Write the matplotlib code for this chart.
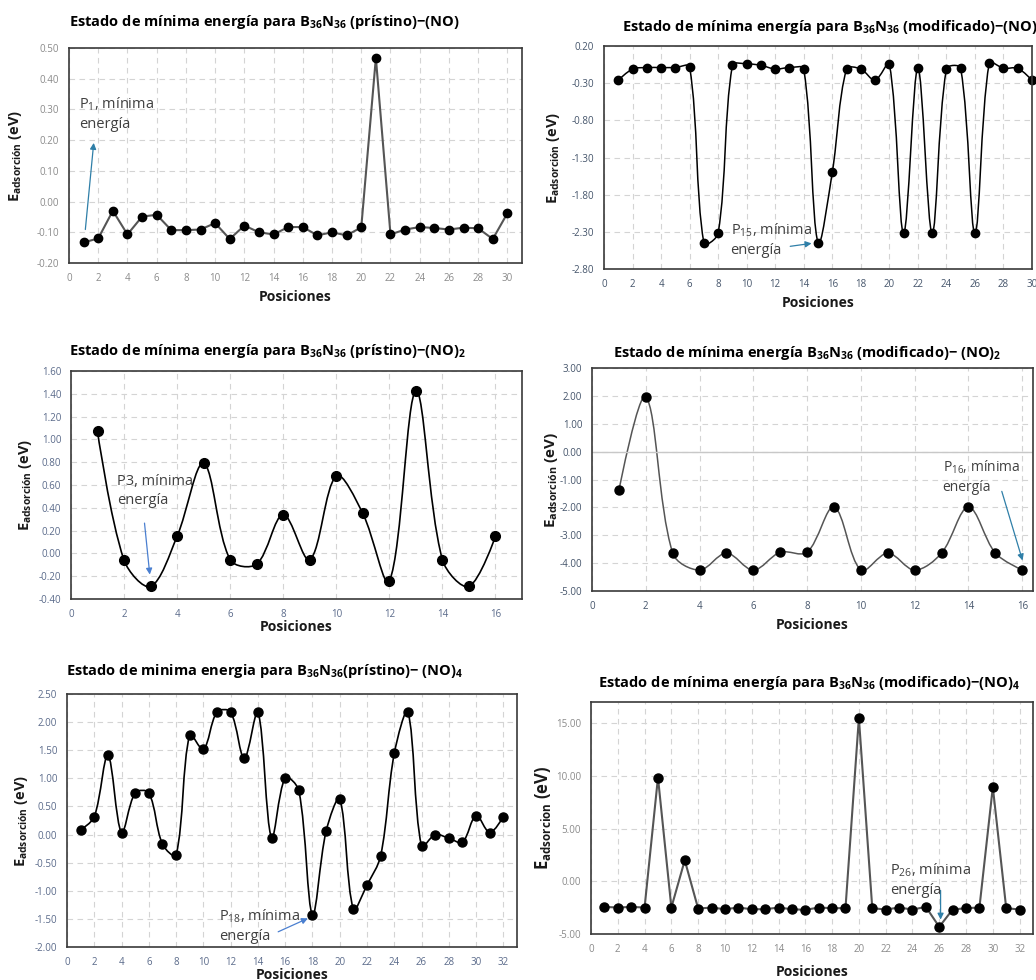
import numpy as np
import matplotlib
matplotlib.use("Agg")
import matplotlib.pyplot as plt
from matplotlib.path import Path
from matplotlib.patches import PathPatch

plt.rcParams['font.family'] = ['Open Sans', 'DejaVu Sans']
plt.rcParams['mathtext.default'] = 'regular'

W, H = 1036, 980

# ---- data ----
pos_30 = list(range(1, 31))
pos_16 = list(range(1, 17))
pos_32 = list(range(1, 33))

e_pris_no = [-0.133, -0.120, -0.030, -0.107, -0.049, -0.043, -0.093, -0.093, -0.091, -0.070,
             -0.122, -0.078, -0.100, -0.107, -0.083, -0.083, -0.110, -0.100, -0.110, -0.084,
             0.468, -0.107, -0.091, -0.083, -0.086, -0.091, -0.085, -0.087, -0.122, -0.038]

e_mod_no = [-0.26, -0.11, -0.09, -0.09, -0.09, -0.08, -2.45, -2.32, -0.06, -0.04,
            -0.06, -0.11, -0.09, -0.11, -2.45, -1.50, -0.11, -0.11, -0.26, -0.04,
            -2.32, -0.09, -2.32, -0.11, -0.10, -2.32, -0.03, -0.10, -0.10, -0.26]

e_pris_no2 = [1.07, -0.06, -0.29, 0.15, 0.79, -0.056, -0.094, 0.34, -0.056, 0.68,
              0.35, -0.245, 1.424, -0.056, -0.29, 0.15]

e_mod_no2 = [-1.39, 1.97, -3.64, -4.25, -3.64, -4.25, -3.61, -3.61, -1.99, -4.25,
             -3.64, -4.25, -3.64, -1.99, -3.64, -4.25]

e_pris_no4 = [0.083, 0.315, 1.41, 0.036, 0.742, 0.742, -0.172, -0.362, 1.776, 1.514,
              2.18, 2.18, 1.354, 2.18, -0.06, 1.01, 0.784, -1.425, 0.06, 0.63,
              -1.324, -0.897, -0.38, 1.443, 2.18, -0.208, 0.0, -0.065, -0.137, 0.338,
              0.036, 0.315]

e_mod_no4 = [-2.43, -2.49, -2.43, -2.49, 9.84, -2.49, 1.99, -2.59, -2.49, -2.65,
             -2.49, -2.65, -2.65, -2.49, -2.65, -2.71, -2.49, -2.55, -2.55, 15.49,
             -2.55, -2.68, -2.49, -2.68, -2.43, -4.32, -2.68, -2.55, -2.49, 8.93,
             -2.55, -2.68]

titles = [
    "Estado de mínima energía para B$_{36}$N$_{36}$ (prístino)−(NO)",
    "Estado de mínima energía para B$_{36}$N$_{36}$ (modificado)−(NO)",
    "Estado de mínima energía para B$_{36}$N$_{36}$ (prístino)−(NO)$_2$",
    "Estado de mínima energía B$_{36}$N$_{36}$ (modificado)− (NO)$_2$",
    "Estado de minima energia para B$_{36}$N$_{36}$(prístino)− (NO)$_4$",
    "Estado de mínima energía para B$_{36}$N$_{36}$ (modificado)−(NO)$_4$",
]
notes = ["P$_1$, mínima\nenergía", "P$_{15}$, mínima\nenergía", "P3, mínima\nenergía",
         "P$_{16}$, mínima\nenergía", "P$_{18}$, mínima\nenergía", "P$_{26}$, mínima\nenergía"]


def smooth_line(ax, x, y, **kw):
    # spreadsheet-style smoothed line: cubic Bezier through the points,
    # control arms scaled by neighbouring segment lengths on screen
    pts = ax.transData.transform(np.column_stack([x, y]))
    n = len(pts)
    d = np.hypot(*np.diff(pts, axis=0).T)
    t = 1 / 3
    c_out = pts.copy()
    c_in = pts.copy()
    for i in range(1, n - 1):
        tan = pts[i + 1] - pts[i - 1]
        s = d[i - 1] + d[i]
        c_in[i] = pts[i] - tan * t * d[i - 1] / s
        c_out[i] = pts[i] + tan * t * d[i] / s
    verts = [pts[0]]
    codes = [Path.MOVETO]
    for i in range(n - 1):
        verts += [c_out[i], c_in[i + 1], pts[i + 1]]
        codes += [Path.CURVE4] * 3
    verts = ax.transData.inverted().transform(np.array(verts))
    ax.add_patch(PathPatch(Path(verts, codes), fill=False, **kw))


def make_axes(left, right, top, bottom):
    return fig.add_axes([left / W, 1 - bottom / H, (right - left) / W, (bottom - top) / H])


def style(ax, xmax, ylim, ystep, xstep, tick_color, box, ylab, ylab_x, xlab_y, ylab_size=10.5):
    left, right, top, bottom = box
    ax.set_xlim(0, xmax)
    ax.set_ylim(*ylim)
    ax.set_xticks(np.arange(0, xmax + 0.01, xstep))
    ax.set_yticks(np.arange(ylim[0], ylim[1] + ystep / 100, ystep))
    ax.yaxis.set_major_formatter(plt.FormatStrFormatter('%.2f'))
    ax.xaxis.set_major_formatter(plt.FormatStrFormatter('%d'))
    ax.tick_params(length=0, labelsize=7, colors=tick_color, pad=7)
    ax.grid(True, color='#d4d4d4', linestyle=(0, (5, 4)), linewidth=0.8)
    ax.set_axisbelow(True)
    for s in ax.spines.values():
        s.set_color('#3a3a3a')
        s.set_linewidth(1.2)
    ax.set_xlabel("Posiciones", fontsize=10, fontweight='bold', color='#1a1a1a')
    ax.xaxis.label.set_va('center')
    ax.xaxis.set_label_coords(0.5, (bottom - xlab_y) / (bottom - top))
    ax.set_ylabel(ylab, fontsize=ylab_size, fontweight='bold', color='#1a1a1a')
    ax.yaxis.label.set_va('center')
    ax.yaxis.set_label_coords((ylab_x - left) / (right - left), 0.5)


fig = plt.figure(figsize=(W / 100, H / 100), dpi=100)

ylab_acc = "E$_{adsorción}$ (eV)"
ylab_noacc = "E$_{adsorcion}$ (eV)"
arrow_col = '#2f7fa8'
note_col = '#404040'

# 1 ---- prístino NO
box = (69, 522, 48, 263)
ax = make_axes(*box)
style(ax, 31, (-0.2, 0.5), 0.1, 2, '#8a8a8a', box, ylab_acc, 16, 297)
ax.plot(pos_30, e_pris_no, color='#555555', lw=1.5, marker='o', ms=6, mfc='black', mec='black')
ax.annotate("", xy=(1.71, 0.20), xytext=(1.1, -0.10),
            arrowprops=dict(arrowstyle='-|>', color=arrow_col, lw=0.9, mutation_scale=9))
ax.text(0.68, 0.285, notes[0], fontsize=10.5, color=note_col, va='center', linespacing=1.35)
fig.text(264 / W, 1 - 22 / H, titles[0], ha='center', va='center', fontsize=10.5, fontweight='bold')

# 2 ---- modificado NO
box = (604, 1032, 46, 269)
ax = make_axes(*box)
style(ax, 30, (-2.8, 0.2), 0.5, 2, '#44546a', box, ylab_acc, 553, 303)
smooth_line(ax, pos_30, e_mod_no, color='black', lw=1.1)
ax.plot(pos_30, e_mod_no, ls='none', marker='o', ms=6, color='black', clip_on=False)
ax.annotate("", xy=(14.74, -2.45), xytext=(12.86, -2.50),
            arrowprops=dict(arrowstyle='-|>', color=arrow_col, lw=0.9, mutation_scale=9))
ax.text(8.87, -2.41, notes[1], fontsize=10.5, color=note_col, va='center', linespacing=1.35)
fig.text(830 / W, 1 - 27 / H, titles[1], ha='center', va='center', fontsize=10.5, fontweight='bold')

# 3 ---- prístino (NO)2
box = (71, 522, 371, 599)
ax = make_axes(*box)
style(ax, 17, (-0.4, 1.6), 0.2, 2, '#5a6a8a', box, ylab_acc, 26, 627)
smooth_line(ax, pos_16, e_pris_no2, color='black', lw=1.2)
ax.plot(pos_16, e_pris_no2, ls='none', marker='o', ms=7, color='black')
ax.annotate("", xy=(2.98, -0.21), xytext=(2.76, 0.29),
            arrowprops=dict(arrowstyle='-|>', color='#4a7fd0', lw=0.9, mutation_scale=9))
ax.text(1.72, 0.55, notes[2], fontsize=10.5, color=note_col, va='center', linespacing=1.35)
fig.text(268 / W, 1 - 351 / H, titles[2], ha='center', va='center', fontsize=10.5, fontweight='bold')

# 4 ---- modificado (NO)2
box = (592, 1033, 368, 591)
ax = make_axes(*box)
style(ax, 16.4, (-5, 3), 1, 2, '#44546a', box, ylab_acc, 552, 625, 11)
ax.axhline(0, color='#c8c8c8', lw=1.0)
smooth_line(ax, pos_16, e_mod_no2, color='#555555', lw=1.1)
ax.plot(pos_16, e_mod_no2, ls='none', marker='o', ms=6.5, color='black', clip_on=False)
ax.annotate("", xy=(16.04, -4.0), xytext=(15.21, -1.33),
            arrowprops=dict(arrowstyle='-|>', color=arrow_col, lw=0.9, mutation_scale=9))
ax.text(13.04, -0.91, notes[3], fontsize=10, color=note_col, va='center', linespacing=1.35)
fig.text(807 / W, 1 - 353 / H, titles[3], ha='center', va='center', fontsize=10.5, fontweight='bold')

# 5 ---- prístino (NO)4
box = (67, 517, 694, 947)
ax = make_axes(*box)
style(ax, 33, (-2, 2.5), 0.5, 2, '#5a6a8a', box, ylab_acc, 22, 975)
smooth_line(ax, pos_32, e_pris_no4, color='black', lw=1.2)
ax.plot(pos_32, e_pris_no4, ls='none', marker='o', ms=6.5, color='black')
ax.annotate("", xy=(17.85, -1.47), xytext=(15.3, -1.75),
            arrowprops=dict(arrowstyle='-|>', color='#4a7fd0', lw=0.9, mutation_scale=9))
ax.text(11.12, -1.63, notes[4], fontsize=10.5, color=note_col, va='center', linespacing=1.35)
fig.text(265 / W, 1 - 671 / H, titles[4], ha='center', va='center', fontsize=10.5, fontweight='bold')

# 6 ---- modificado (NO)4
box = (591, 1033, 702, 934)
ax = make_axes(*box)
style(ax, 33, (-5, 17), 5, 2, '#8a8a8a', box, ylab_noacc, 543, 972, 12)
ax.set_yticks([-5, 0, 5, 10, 15])
ax.plot(pos_32, e_mod_no4, color='#555555', lw=1.5, marker='o', ms=6.5, mfc='black', mec='black')
ax.annotate("", xy=(26.1, -3.9), xytext=(26.1, -0.6),
            arrowprops=dict(arrowstyle='-|>', color=arrow_col, lw=0.9, mutation_scale=9))
ax.text(22.36, 0.12, notes[5], fontsize=10.5, color=note_col, va='center', linespacing=1.35)
fig.text(809 / W, 1 - 683 / H, titles[5], ha='center', va='center', fontsize=10.5, fontweight='bold')

fig.savefig("out.png", dpi=100)
